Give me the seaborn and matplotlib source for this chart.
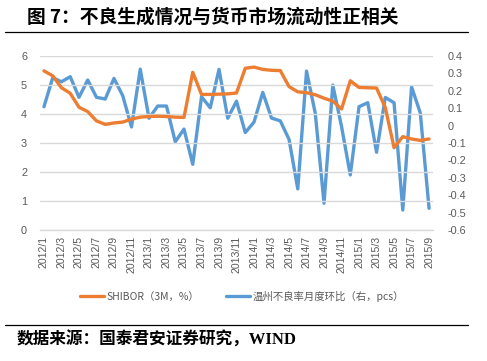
import numpy as np
import pandas as pd
import matplotlib
matplotlib.use("Agg")
import matplotlib.pyplot as plt
import seaborn as sns
from matplotlib.ticker import FixedLocator, FuncFormatter

# ---------------- data ----------------
months = [f"{y}/{m}" for y in (2012, 2013, 2014, 2015) for m in range(1, 13)][:45]
shibor = [5.48, 5.31, 4.90, 4.71, 4.23, 4.08, 3.76, 3.64, 3.69, 3.72, 3.82, 3.89,
          3.91, 3.92, 3.91, 3.89, 3.88, 5.43, 4.67, 4.67, 4.68, 4.69, 4.72,
          5.57, 5.61, 5.53, 5.50, 5.49, 4.94, 4.76, 4.73, 4.66, 4.54, 4.44, 4.17,
          5.14, 4.91, 4.90, 4.89, 4.22, 2.84, 3.22, 3.14, 3.09, 3.14]
wenzhou = [0.108, 0.274, 0.251, 0.280, 0.162, 0.261, 0.162, 0.152, 0.270, 0.171, -0.008, 0.323,
           0.042, 0.112, 0.112, -0.093, -0.020, -0.222, 0.165, 0.102, 0.322, 0.042, 0.140,
           -0.040, 0.020, 0.190, 0.043, 0.027, -0.079, -0.363, 0.312, 0.070, -0.445, 0.232, -0.005,
           -0.283, 0.108, 0.131, -0.153, 0.161, 0.131, -0.484, 0.222, 0.072, -0.474]
label_shibor = "SHIBOR（3M，%）"
label_wz = "温州不良率月度环比（右，pcs）"
title = "图 7：不良生成情况与货币市场流动性正相关"
source = "数据来源：国泰君安证券研究，WIND"

df = pd.DataFrame({"idx": np.arange(len(months)), "month": months,
                   "shibor": shibor, "wenzhou": wenzhou})

# ---------------- style ----------------
sns.set_style("white")
plt.rcParams["font.family"] = ["Liberation Sans", "Noto Sans CJK SC", "DejaVu Sans"]

ORANGE = "#ED7D31"
BLUE = "#5B9BD5"
GRID = "#D9D9D9"
TXT = "#595959"

fig = plt.figure(figsize=(4.87, 3.61), dpi=100)
ax = fig.add_axes([0.0813, 0.362, 0.8087, 0.4836])
ax2 = ax.twinx()

sns.lineplot(data=df, x="idx", y="shibor", ax=ax, color=ORANGE, lw=2.4,
             label=label_shibor, legend=False)
sns.lineplot(data=df, x="idx", y="wenzhou", ax=ax2, color=BLUE, lw=2.4,
             label=label_wz, legend=False)

ax.set_zorder(ax2.get_zorder() + 1)
ax.patch.set_visible(False)

n = len(months)
for a in (ax, ax2):
    a.set_xlim(-0.5, n - 0.5)
    a.set_xlabel("")
    a.set_ylabel("")
    for s in a.spines.values():
        s.set_visible(False)

ax.set_ylim(0, 6)
ax.set_yticks(range(0, 7))
ax.yaxis.grid(True, color=GRID, lw=1)
ax.set_axisbelow(True)
ax.spines["bottom"].set_visible(True)
ax.spines["bottom"].set_color(GRID)
ax.spines["bottom"].set_linewidth(1)

ax2.set_ylim(-0.6, 0.4)
ax2.yaxis.set_major_locator(FixedLocator(np.round(np.arange(-0.6, 0.41, 0.1), 1)))
ax2.yaxis.set_major_formatter(FuncFormatter(lambda v, p: f"{round(v, 1):g}" if abs(v) > 1e-9 else "0"))
ax2.grid(False)

ax.set_xticks(df["idx"][::2])
ax.set_xticklabels(df["month"][::2], rotation=90)
ax.xaxis.set_minor_locator(FixedLocator(np.arange(-0.5, n, 2)))
ax.tick_params(axis="x", which="major", length=0, pad=4, labelsize=7.6, labelcolor=TXT)
ax.tick_params(axis="x", which="minor", length=3, color=GRID, width=1)
ax.tick_params(axis="y", length=0, pad=9, labelsize=7.8, labelcolor=TXT)
ax2.tick_params(axis="y", length=0, pad=10, labelsize=7.8, labelcolor=TXT)
ax2.tick_params(axis="x", length=0)

h1, l1 = ax.get_legend_handles_labels()
h2, l2 = ax2.get_legend_handles_labels()
leg = fig.legend(h1 + h2, l1 + l2, loc="center", bbox_to_anchor=(0.497, 0.18),
                 ncol=2, frameon=False, handlelength=2.3, handletextpad=0.2,
                 columnspacing=2.6, prop={"family": ["Noto Sans CJK SC", "DejaVu Sans"], "size": 7.5})
for t in leg.get_texts():
    t.set_color(TXT)

# title and source
fig.text(0.056, 0.952, title, ha="left", va="center", fontsize=13.5, fontweight="bold",
         family=["Noto Sans CJK SC", "DejaVu Sans"], color="black")
fig.add_artist(plt.Line2D([0.010, 0.962], [0.912, 0.912], color="black", lw=0.9,
                          transform=fig.transFigure))
fig.add_artist(plt.Line2D([0.010, 0.962], [0.1, 0.1], color="black", lw=0.9,
                          transform=fig.transFigure))
fig.text(0.035, 0.058, source, ha="left", va="center", fontsize=12, fontweight="bold",
         family=["Liberation Serif", "Noto Sans CJK SC", "DejaVu Sans"], color="black")

fig.savefig("out.png", dpi=100, facecolor="white")
